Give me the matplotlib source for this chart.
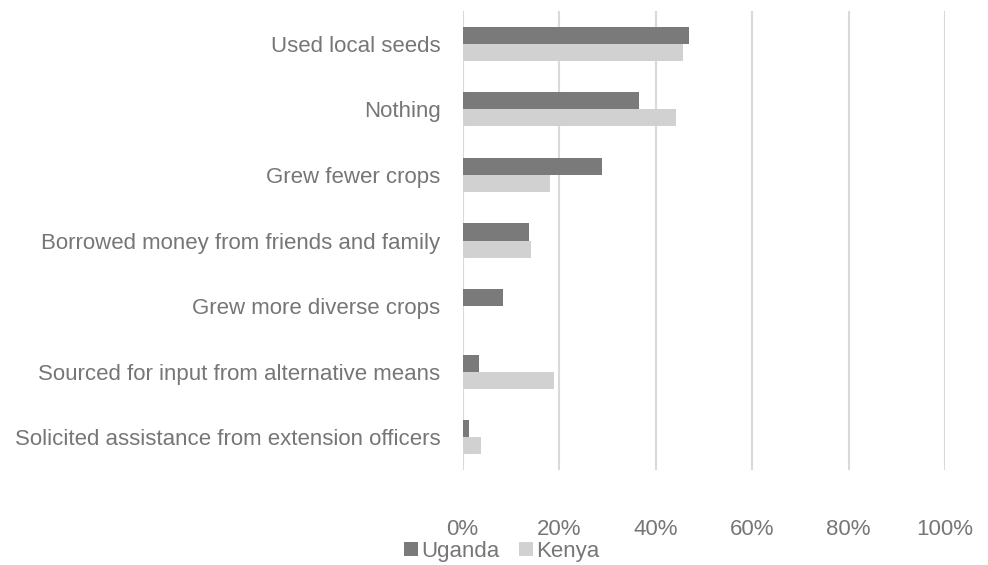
import numpy as np
import matplotlib.pyplot as plt
from matplotlib.ticker import PercentFormatter

plt.rcParams['font.family'] = ['Liberation Sans', 'DejaVu Sans']

categories = [
    "Used local seeds",
    "Nothing",
    "Grew fewer crops",
    "Borrowed money from friends and family",
    "Grew more diverse crops",
    "Sourced for input from alternative means",
    "Solicited assistance from extension officers",
]
uganda = [46.9, 36.5, 28.8, 13.7, 8.4, 3.3, 1.4]
kenya = [45.7, 44.2, 18.2, 14.2, 0.0, 19.0, 3.9]

text_col = "#767676"
fs = 16.0
fig = plt.figure(figsize=(9.88, 5.65), dpi=100)
ax = fig.add_axes([0.4683, 0.168, 0.4882, 0.8125])

y = np.arange(len(categories))
h = 0.26
ax.barh(y - h / 2, uganda, height=h, color="#7a7a7a", label="Uganda", zorder=3)
ax.barh(y + h / 2, kenya, height=h, color="#d0d1d0", label="Kenya", zorder=3)

ax.set_ylim(len(categories) - 0.5, -0.5)
ax.set_xlim(0, 100)
ax.set_xticks(np.arange(0, 101, 20))
ax.xaxis.set_major_formatter(PercentFormatter(decimals=0))
ax.set_yticks(y)
ax.set_yticklabels(categories)

ax.grid(axis="x", color="#d9d9d9", linewidth=1.5, zorder=0)
for s in ax.spines.values():
    s.set_visible(False)
ax.tick_params(axis="both", length=0, labelsize=fs, colors=text_col)
ax.tick_params(axis="x", pad=35)
ax.tick_params(axis="y", pad=16)

leg = fig.legend(loc="center", bbox_to_anchor=(0.508, 0.024), ncol=2, frameon=False,
                 fontsize=fs, handlelength=0.6, handleheight=0.6, handletextpad=0.15,
                 columnspacing=0.9)
for t in leg.get_texts():
    t.set_color(text_col)

fig.savefig("out.png", dpi=100)
